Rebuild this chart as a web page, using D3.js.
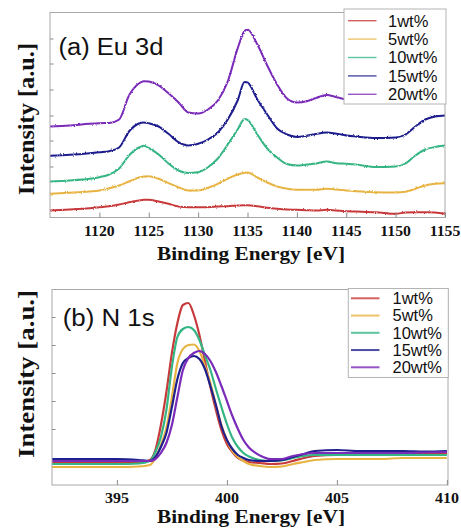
<!DOCTYPE html>
<html><head><meta charset="utf-8">
<script src="https://cdn.jsdelivr.net/npm/d3@7"></script>
<style>body{margin:0;background:#fff}
.tl{font-family:'Liberation Serif','Times New Roman',serif;font-weight:bold;fill:#111}
</style>
</head><body>
<svg id="c" width="461" height="529" xmlns="http://www.w3.org/2000/svg"></svg>
<script>
// ---------------- DATA ----------------
const seriesLabels = ["1wt%", "5wt%", "10wt%", "15wt%", "20wt%"];

// (a) Eu 3d : binding energy [eV] and intensity [a.u.]
const energyEu = [1115,1117,1119,1120,1121,1122,1123,1124,1124.5,1125,1126,1127,1128,1129,1130,1131,1132,1133,1134,1134.7,1135,1136,1137,1138,1139,1140,1141,1142,1143,1144,1145,1146,1148,1150,1151,1152,1153,1154,1155];
const eu1  = [7,8,9.3,10.3,11.3,13,15.3,17,17.7,17.7,16,13.7,11,10.3,10.3,10.3,11,11.3,12,12.3,12.3,11.3,9.7,8.7,8,7.7,7.3,7,7.7,7,6.3,6,5.3,3.7,5,5.3,5.3,5,3.7];
const eu5  = [23.7,24.7,26,27,29.3,32,36,40,41,41.3,38.7,34.3,30.3,27,27,29.7,33.7,38.7,43,44.7,45,40,35,31,28.7,27.7,27.7,27.7,28.7,28,27,26.3,25.3,25,25.8,28.7,32,33.7,34.3];
const eu10 = [36,37,38.7,40.3,43,49,62,70,71.7,69.5,63,54,47,44.5,45.3,50.3,59,73,88,98.5,97.7,83,69,60,53.5,52,53,54,56,54.3,53.7,53,50.5,51,54,62,68,70.5,72];
const eu15 = [61.7,62.7,64.3,65.3,66.3,70,86,94,95,94.3,91,83.7,75.3,72,73.7,78,85,98,117,135.5,135,118,103,89,83,80.5,81.7,83.7,85,83.7,82,81,79.5,80,83,91,98,101,102];
const eu20 = [91,92,93.7,94.3,94.5,98,122,134,136.3,136,132,124.3,115.3,105,104,108,117,136,169,186.5,188,173,152,133,119,115,116.3,119.7,122.5,120.3,118,117,115.3,115.3,118.7,127,133.7,135.3,136.3];

// (b) N 1s
const energyN = [392,393,394,395,396,396.5,396.75,397,397.25,397.5,397.75,398,398.25,398.5,398.75,399,399.25,399.5,399.75,400,400.25,400.5,400.75,401,401.5,402,402.5,403,403.5,404,405,406,407,408,409,410];
const n1  = [22,22,22,22,22,25,35,60,93,132,162,180,182,170,150,124,98,75,55,41,33,27,24.5,23,22,21,21.5,24,27,29,30,30,31,31,31.5,32];
const n5  = [18,18,18,18,18.5,20,27,40,57,88,122,136,140,140.5,134,119,102,80,60,45,34,28,24,21,19,18,18.5,21,23,25,26,26,26,27,27,27];
const n10 = [21,21,21,21,21.5,24,33,48,75,118,148,156,158,155,145,130,115,96,78,61,47,38,32,28.5,25,24,24.5,27,29,30,30,30,30,30,30,30];
const n15 = [26,26,26,26,25,24,28,38,52,78,106,122,127,129,126,116,99,80,59,45,36,30,27,25,24,24,25,28,31,34,35,34,34,34,33.5,34];
const n20 = [24,24,24,24,24,24,26,32,42,60,88,115,127,132,134,131,124,113,99,84,69,56,45,37.5,29.5,26,26,29,31,32,32,32,32,32,32.5,33];

const euTicksX = [1120,1125,1130,1135,1140,1145,1150,1155];
const nTicksX  = [395,400,405,410];
const euTicksY = [51,77,102,128,154,179];
const nTicksY  = [56,84,112,140,168];

// ---------------- STYLE ----------------
const colors = ["#c8393b", "#e7b443", "#35b584", "#1f1f8e", "#7a2bb9"];
const serif = "'Liberation Serif','Times New Roman',serif";
const sans  = "'Liberation Sans',Arial,Helvetica,sans-serif";

const svg = d3.select("#c");
const defs = svg.append("defs");
// slight roughness for the measured (noisy) XPS traces in panel (a)
const f = defs.append("filter").attr("id", "rough").attr("x", "-2%").attr("y", "-5%")
  .attr("width", "104%").attr("height", "110%");
f.append("feTurbulence").attr("type", "fractalNoise").attr("baseFrequency", "0.9 0.6")
  .attr("numOctaves", 2).attr("seed", 7).attr("result", "n");
f.append("feDisplacementMap").attr("in", "SourceGraphic").attr("in2", "n")
  .attr("scale", 2.4).attr("xChannelSelector", "R").attr("yChannelSelector", "G");

function panel(o) {
  const x = d3.scaleLinear().domain(o.xDomain).range(o.xRange);
  const y = d3.scaleLinear().domain(o.yDomain).range(o.yRange);
  const g = svg.append("g");
  const id = "clip" + o.key;
  defs.append("clipPath").attr("id", id)
    .append("rect").attr("x", o.xRange[0]).attr("y", o.yRange[1])
    .attr("width", o.xRange[1] - o.xRange[0]).attr("height", o.yRange[0] - o.yRange[1]);

  // lines
  const line = d3.line().x((d, i) => x(o.energy[i])).y(d => y(d)).curve(d3.curveMonotoneX);
  const lg = g.append("g").attr("clip-path", `url(#${id})`).append("g");
  if (o.rough) lg.attr("filter", "url(#rough)");
  o.series.forEach((s, k) => {
    lg.append("path").attr("d", line(s)).attr("fill", "none")
      .attr("stroke", colors[k]).attr("stroke-width", o.lineW).attr("stroke-linejoin", "round");
  });

  // frame
  g.append("rect").attr("x", o.xRange[0]).attr("y", o.yRange[1])
    .attr("width", o.xRange[1] - o.xRange[0]).attr("height", o.yRange[0] - o.yRange[1])
    .attr("fill", "none").attr("stroke", "#a8a8a8").attr("stroke-width", 1);

  // x axis (inward ticks)
  const xa = g.append("g").attr("transform", `translate(0,${o.yRange[0]})`)
    .call(d3.axisBottom(x).tickValues(o.ticksX).tickSize(-5).tickFormat(""));
  xa.select(".domain").remove();
  xa.selectAll(".tick line").attr("stroke", "#8a8a8a");
  // tick labels (bold serif), positioned by the same scale
  g.append("g").selectAll("text").data(o.ticksX).join("text")
    .attr("class", "tl")
    .attr("transform", d => `translate(${x(d)},${o.tickBase}) scale(${o.tickScale},1)`)
    .attr("text-anchor", "middle")
    .style("font-size", o.tickFont + "px")
    .text(d3.format("d"));

  // y axis (inward ticks, no labels)
  const ya = g.append("g").attr("transform", `translate(${o.xRange[0]},0)`)
    .call(d3.axisLeft(y).tickValues(o.ticksY).tickSize(-3.5).tickFormat(""));
  ya.select(".domain").remove();
  ya.selectAll(".tick line").attr("stroke", "#8a8a8a");

  // panel title
  g.append("text").attr("x", o.title[1]).attr("y", o.title[2]).text(o.title[0])
    .style("font-family", sans).style("font-size", "23px").attr("fill", "#111")
    .attr("textLength", o.title[3]).attr("lengthAdjust", "spacingAndGlyphs");

  // axis titles
  g.append("text").attr("x", 251).attr("y", o.xTitleY).attr("text-anchor", "middle")
    .text("Binding Energy [eV]").style("font-family", serif).style("font-weight", "700")
    .style("font-size", "19px").attr("fill", "#111")
    .attr("textLength", 188).attr("lengthAdjust", "spacingAndGlyphs");
  g.append("text").attr("transform", `translate(33.5,${o.yTitleC}) rotate(-90)`)
    .attr("text-anchor", "middle").text("Intensity [a.u.]")
    .style("font-family", serif).style("font-weight", "700").style("font-size", "23px").attr("fill", "#111")
    .attr("textLength", o.yTitleLen).attr("lengthAdjust", "spacingAndGlyphs");

  // legend
  const L = o.legend;
  const leg = g.append("g");
  leg.append("rect").attr("x", L.x).attr("y", L.y).attr("width", L.w).attr("height", L.h)
    .attr("fill", "#fff").attr("stroke", "#b4b4b4").attr("stroke-width", 1);
  seriesLabels.forEach((lab, k) => {
    const yy = L.row0 + k * L.step;
    leg.append("line").attr("x1", L.lx1).attr("x2", L.lx2).attr("y1", yy).attr("y2", yy)
      .attr("stroke", colors[k]).attr("stroke-width", L.lw).attr("stroke-opacity", 0.8);
    leg.append("text").attr("x", L.tx).attr("y", yy).attr("dy", "0.36em").text(lab)
      .style("font-family", sans).style("font-size", L.fs + "px").attr("fill", "#111");
  });
}

panel({
  key: "a", xDomain: [1115, 1155], xRange: [50, 445], yDomain: [0, 205], yRange: [217.5, 12.5],
  energy: energyEu, series: [eu1, eu5, eu10, eu15, eu20], ticksX: euTicksX, ticksY: euTicksY,
  tickBase: 235.5, tickFont: 15, tickScale: 1.05, lineW: 2, rough: true,
  title: ["(a) Eu 3d", 58.5, 55, 105],
  xTitleY: 259.5, yTitleC: 119, yTitleLen: 152,
  legend: { x: 344, y: 9, w: 102, h: 95, row0: 20.7, step: 18.4, lx1: 348, lx2: 376.5, tx: 388, fs: 16.5, lw: 1.4 }
});

panel({
  key: "b", xDomain: [392.05, 410.05], xRange: [52, 448], yDomain: [0, 195.5], yRange: [485, 289.5],
  energy: energyN, series: [n1, n5, n10, n15, n20], ticksX: nTicksX, ticksY: nTicksY,
  tickBase: 503, tickFont: 15.5, tickScale: 1.03, lineW: 2.2, rough: false,
  title: ["(b) N 1s", 62.7, 326, 92],
  xTitleY: 523.3, yTitleC: 374, yTitleLen: 168,
  legend: { x: 348.3, y: 288.5, w: 100, h: 89, row0: 298.3, step: 17.25, lx1: 351, lx2: 379.5, tx: 392.5, fs: 16.5, lw: 2 }
});
</script>
</body></html>
